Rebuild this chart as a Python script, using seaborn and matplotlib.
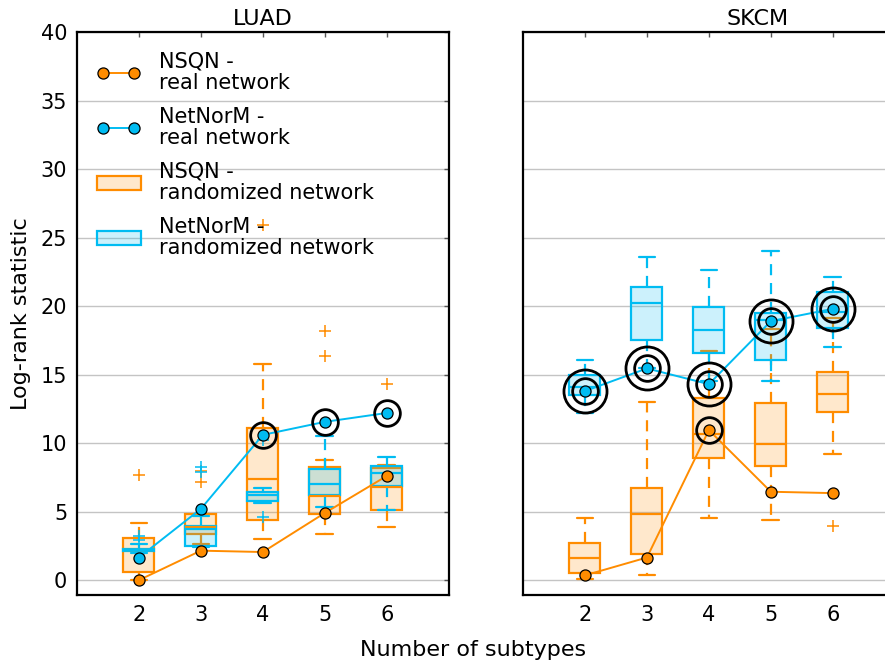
import matplotlib
matplotlib.use("Agg")
import matplotlib.pyplot as plt
import seaborn as sns
from matplotlib.lines import Line2D
from matplotlib.patches import Patch

sns.set_style("white")
plt.rcParams["font.family"] = ["DejaVu Sans"]
plt.rcParams["text.color"] = "black"
plt.rcParams["axes.labelcolor"] = "black"
plt.rcParams["xtick.color"] = "black"
plt.rcParams["ytick.color"] = "black"

subtypes = [2, 3, 4, 5, 6]
panels = ["LUAD", "SKCM"]

# ---- LUAD ----
luad_nsqn_real = [0.0, 2.15, 2.05, 4.9, 7.6]
luad_netnorm_real = [1.65, 5.2, 10.6, 11.55, 12.2]
luad_nsqn_sig = [0, 0, 0, 0, 0]
luad_netnorm_sig = [0, 0, 1, 1, 1]

# randomized-network distributions: whisker low, Q1, median, Q3, whisker high, outliers
luad_nsqn_whislo = [0.0, 2.6, 3.0, 3.4, 3.9]
luad_nsqn_q1 = [0.6, 3.4, 4.4, 4.85, 5.1]
luad_nsqn_med = [2.2, 3.9, 7.35, 6.15, 6.8]
luad_nsqn_q3 = [3.05, 4.8, 11.1, 8.25, 8.2]
luad_nsqn_whishi = [4.2, 4.8, 15.8, 8.8, 8.4]
luad_nsqn_fliers = [[7.65], [8.0, 7.15], [25.9], [16.35, 18.15], [14.3]]

luad_netnorm_whislo = [2.0, 2.4, 5.6, 5.3, 5.1]
luad_netnorm_q1 = [2.1, 2.5, 5.8, 6.2, 6.9]
luad_netnorm_med = [2.2, 3.7, 6.2, 7.05, 7.85]
luad_netnorm_q3 = [2.3, 3.95, 6.45, 8.1, 8.3]
luad_netnorm_whishi = [2.6, 4.65, 6.7, 10.5, 8.95]
luad_netnorm_fliers = [[2.9, 3.2], [8.25, 7.9], [10.2, 4.6], [], []]

# ---- SKCM ----
skcm_nsqn_real = [0.35, 1.65, 10.95, 6.45, 6.35]
skcm_netnorm_real = [13.8, 15.45, 14.3, 18.9, 19.8]
skcm_nsqn_sig = [0, 0, 1, 0, 0]
skcm_netnorm_sig = [2, 2, 2, 2, 2]

skcm_nsqn_whislo = [0.05, 0.4, 4.5, 4.4, 9.2]
skcm_nsqn_q1 = [0.55, 1.9, 8.9, 8.3, 12.3]
skcm_nsqn_med = [1.6, 4.8, 10.7, 9.95, 13.6]
skcm_nsqn_q3 = [2.7, 6.7, 13.3, 12.9, 15.2]
skcm_nsqn_whishi = [4.55, 13.0, 16.7, 18.3, 19.15]
skcm_nsqn_fliers = [[], [], [], [], [3.95]]

skcm_netnorm_whislo = [12.2, 15.5, 14.5, 14.5, 17.0]
skcm_netnorm_q1 = [13.5, 17.5, 16.6, 16.1, 18.4]
skcm_netnorm_med = [14.1, 20.2, 18.25, 19.0, 19.6]
skcm_netnorm_q3 = [15.0, 21.4, 19.9, 19.5, 21.0]
skcm_netnorm_whishi = [16.1, 23.6, 22.6, 24.0, 22.1]
skcm_netnorm_fliers = [[], [], [], [], []]

ORANGE = "#FF8C00"
BLUE = "#00BCF2"

legend_labels = ["NSQN -\nreal network", "NetNorM -\nreal network",
                 "NSQN -\nrandomized network", "NetNorM -\nrandomized network"]


def box_stats(whislo, q1, med, q3, whishi, fliers):
    return [dict(whislo=a, q1=b, med=c, q3=d, whishi=e, fliers=f)
            for a, b, c, d, e, f in zip(whislo, q1, med, q3, whishi, fliers)]


def draw_boxes(ax, stats, color):
    ax.bxp(stats, positions=subtypes, widths=0.5, capwidths=0.27,
           patch_artist=True, manage_ticks=False,
           boxprops=dict(facecolor=matplotlib.colors.to_rgba(color, 0.2),
                         edgecolor=color, linewidth=1.6),
           whiskerprops=dict(color=color, linewidth=1.6, linestyle=(0, (5, 3.5))),
           capprops=dict(color=color, linewidth=1.6),
           medianprops=dict(color=color, linewidth=1.6),
           flierprops=dict(marker="+", markeredgecolor=color, markersize=8,
                           markeredgewidth=1.1, linestyle="none"))


def draw_real(ax, values, color, sig):
    sns.lineplot(x=subtypes, y=values, ax=ax, color=color, linewidth=1.4,
                 marker="o", markersize=8, markeredgecolor="black",
                 markeredgewidth=0.9, zorder=4)
    for x, y, s in zip(subtypes, values, sig):
        if s >= 1:
            ax.plot([x], [y], marker="o", markersize=18.5, markerfacecolor="none",
                    markeredgecolor="black", markeredgewidth=2.0, zorder=5)
        if s >= 2:
            ax.plot([x], [y], marker="o", markersize=31, markerfacecolor="none",
                    markeredgecolor="black", markeredgewidth=2.0, zorder=5)


fig = plt.figure(figsize=(8.85, 6.68), dpi=100)
ax_l = fig.add_axes([0.087, 0.109, 0.420, 0.843])
ax_r = fig.add_axes([0.591, 0.109, 0.420, 0.843], sharey=ax_l)

data = {
    "LUAD": (luad_nsqn_real, luad_netnorm_real, luad_nsqn_sig, luad_netnorm_sig,
             box_stats(luad_nsqn_whislo, luad_nsqn_q1, luad_nsqn_med, luad_nsqn_q3,
                       luad_nsqn_whishi, luad_nsqn_fliers),
             box_stats(luad_netnorm_whislo, luad_netnorm_q1, luad_netnorm_med,
                       luad_netnorm_q3, luad_netnorm_whishi, luad_netnorm_fliers)),
    "SKCM": (skcm_nsqn_real, skcm_netnorm_real, skcm_nsqn_sig, skcm_netnorm_sig,
             box_stats(skcm_nsqn_whislo, skcm_nsqn_q1, skcm_nsqn_med, skcm_nsqn_q3,
                       skcm_nsqn_whishi, skcm_nsqn_fliers),
             box_stats(skcm_netnorm_whislo, skcm_netnorm_q1, skcm_netnorm_med,
                       skcm_netnorm_q3, skcm_netnorm_whishi, skcm_netnorm_fliers)),
}

for ax, name in zip([ax_l, ax_r], panels):
    nsqn_real, netnorm_real, nsqn_sig, netnorm_sig, nsqn_box, netnorm_box = data[name]
    draw_boxes(ax, nsqn_box, ORANGE)
    draw_boxes(ax, netnorm_box, BLUE)
    draw_real(ax, nsqn_real, ORANGE, nsqn_sig)
    draw_real(ax, netnorm_real, BLUE, netnorm_sig)

    ax.set_xlim(1, 7)
    ax.set_ylim(-1.1, 40)
    ax.set_xticks(subtypes)
    ax.set_xticklabels([str(s) for s in subtypes])
    ax.set_yticks(range(0, 41, 5))
    ax.yaxis.grid(True, color="#c4c4c4", linewidth=1.0)
    ax.xaxis.grid(False)
    ax.set_axisbelow(True)
    ax.tick_params(direction="in", top=True, right=True, length=3.5, width=1,
                   color="#555555", labelcolor="black", labelsize=15, pad=7)
    for sp in ax.spines.values():
        sp.set_color("black")
        sp.set_linewidth(1.6)
    ax.set_xlabel("")
    ax.set_ylabel("")

ax_l.set_title("LUAD", fontsize=16, pad=5)
ax_r.set_title("SKCM", fontsize=16, pad=5, x=0.63)
ax_r.tick_params(labelleft=False)
ax_l.set_ylabel("Log-rank statistic", fontsize=16, labelpad=7)
fig.text(0.534, 0.027, "Number of subtypes", fontsize=16, ha="center", va="center")

handles = [
    Line2D([0], [0], color=ORANGE, linewidth=1.4, marker="o", markersize=8,
           markeredgecolor="black", markeredgewidth=0.9),
    Line2D([0], [0], color=BLUE, linewidth=1.4, marker="o", markersize=8,
           markeredgecolor="black", markeredgewidth=0.9),
    Patch(facecolor=matplotlib.colors.to_rgba(ORANGE, 0.2), edgecolor=ORANGE, linewidth=1.6),
    Patch(facecolor=matplotlib.colors.to_rgba(BLUE, 0.2), edgecolor=BLUE, linewidth=1.6),
]
leg = ax_l.legend(handles, legend_labels, loc="upper left", frameon=False, fontsize=15,
                  numpoints=2, handlelength=2.1, handletextpad=0.9, labelspacing=0.68,
                  borderaxespad=0.55)
for t in leg.get_texts():
    t.set_linespacing(1.05)

fig.savefig("out.png", dpi=100)
